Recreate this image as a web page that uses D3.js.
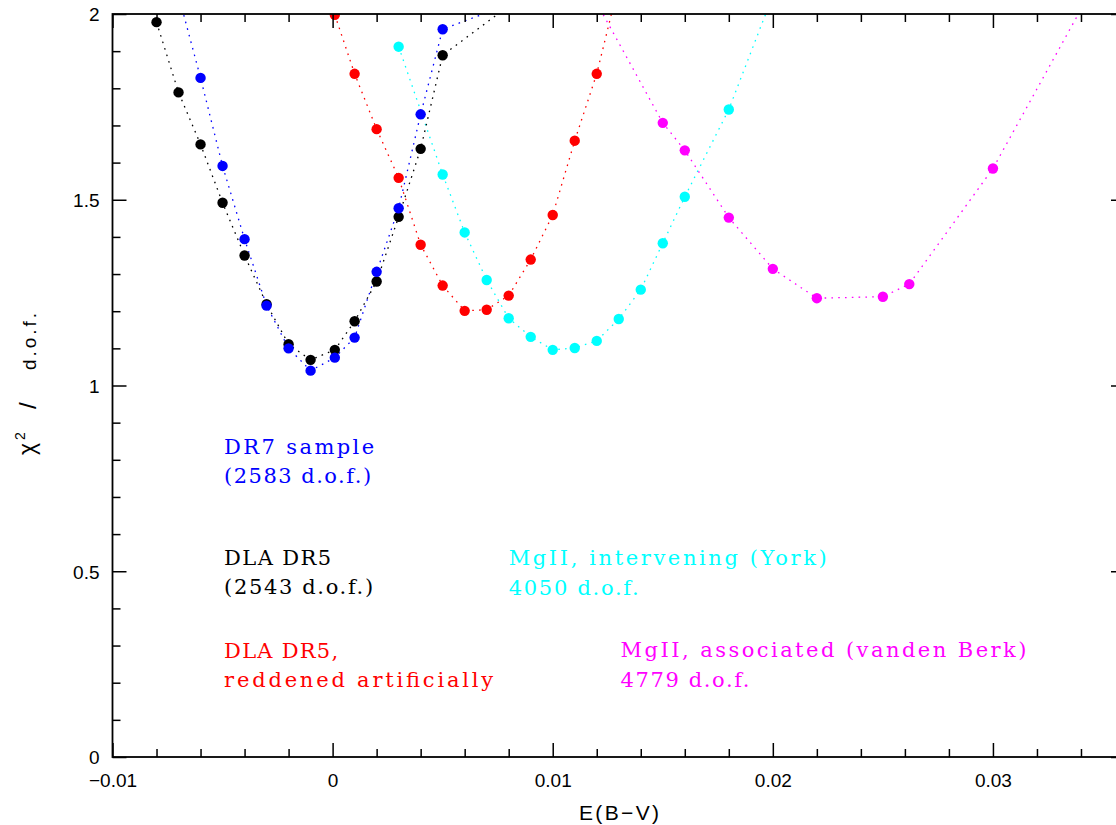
<!DOCTYPE html>
<html>
<head>
<meta charset="utf-8">
<script src="https://cdn.jsdelivr.net/npm/d3@7"></script>
<style>
  body { margin: 0; background: #fff; }
  svg { display: block; }
</style>
</head>
<body>
<svg id="chart" width="1116" height="825"></svg>
<script>
// E(B-V) grid and reduced chi^2 for each sample
const dr7X   = [-0.007, -0.006, -0.005, -0.004, -0.003, -0.002, -0.001, 0.0001, 0.001, 0.002, 0.003, 0.004, 0.005, 0.010];
const dr7Chi = [2.05, 1.828, 1.591, 1.394, 1.215, 1.100, 1.040, 1.075, 1.129, 1.306, 1.477, 1.730, 1.959, 2.07];

const dlaX   = [-0.008, -0.007, -0.006, -0.005, -0.004, -0.003, -0.002, -0.001, 0.0001, 0.001, 0.002, 0.003, 0.004, 0.005, 0.010];
const dlaChi = [1.978, 1.789, 1.649, 1.492, 1.350, 1.219, 1.111, 1.069, 1.096, 1.173, 1.280, 1.454, 1.637, 1.889, 2.11];

const redX   = [0.0001, 0.001, 0.002, 0.003, 0.004, 0.005, 0.006, 0.007, 0.008, 0.009, 0.010, 0.011, 0.012, 0.013];
const redChi = [1.998, 1.839, 1.690, 1.559, 1.379, 1.269, 1.201, 1.204, 1.242, 1.339, 1.459, 1.659, 1.839, 2.08];

const yorkX   = [0.003, 0.005, 0.006, 0.007, 0.008, 0.009, 0.010, 0.011, 0.012, 0.013, 0.014, 0.015, 0.016, 0.018, 0.020];
const yorkChi = [1.912, 1.568, 1.412, 1.284, 1.181, 1.131, 1.096, 1.101, 1.120, 1.179, 1.258, 1.383, 1.508, 1.743, 2.05];

const vdbX   = [0.012, 0.015, 0.016, 0.018, 0.020, 0.022, 0.025, 0.0262, 0.030, 0.035];
const vdbChi = [2.03, 1.707, 1.633, 1.452, 1.314, 1.235, 1.239, 1.273, 1.584, 2.12];

const seriesColors = ["#0000ff", "#000000", "#ff0000", "#00ffff", "#ff00ff"];

// axis ticks
const xMajor = [-0.01, 0, 0.01, 0.02, 0.03];
const xTickLabels = ["\u22120.01", "0", "0.01", "0.02", "0.03"];
const yMajor = [0, 0.5, 1, 1.5, 2];
const yTickLabels = ["0", "0.5", "1", "1.5", "2"];

// annotation lines: text, E(B-V) anchor, chi^2 baseline, colour index, drawn width
const noteText  = ["DR7 sample", "(2583 d.o.f.)", "DLA DR5", "(2543 d.o.f.)", "DLA DR5,", "reddened artificially",
                   "MgII, intervening (York)", "4050 d.o.f.", "MgII, associated (vanden Berk)", "4779 d.o.f."];
const noteX     = [-0.00493, -0.00493, -0.00493, -0.00493, -0.00493, -0.00493, 0.00800, 0.00800, 0.01308, 0.01308];
const noteY     = [0.816, 0.737, 0.517, 0.439, 0.266, 0.188, 0.517, 0.436, 0.268, 0.188];
const noteColor = [0, 0, 1, 1, 2, 2, 3, 3, 4, 4];
const noteWidth = [150, 147, 107, 149, 114, 269, 318, 130, 406, 129];

const svg = d3.select("#chart");
const padL = 112.5, padR = 1125, padT = 14, padB = 757;

const x = d3.scaleLinear().domain([-0.01, 0.036]).range([padL, padR]);
const y = d3.scaleLinear().domain([0, 2]).range([padB, padT]);

svg.append("defs").append("clipPath").attr("id", "plotClip")
  .append("rect").attr("x", padL).attr("y", padT)
  .attr("width", padR - padL).attr("height", padB - padT);

const plot = svg.append("g").attr("clip-path", "url(#plotClip)");

const series = [
  [dr7X, dr7Chi], [dlaX, dlaChi], [redX, redChi], [yorkX, yorkChi], [vdbX, vdbChi]
];

const line = d3.line().x(d => x(d[0])).y(d => y(d[1]));

// draw order: cyan, magenta, red, black, blue on top
const order = [3, 4, 2, 1, 0];
order.forEach(i => {
  const [xs, ys] = series[i];
  const pts = xs.map((v, k) => [v, ys[k]]);
  plot.append("path")
    .datum(pts)
    .attr("d", line)
    .attr("fill", "none")
    .attr("stroke", seriesColors[i])
    .attr("stroke-width", 1.3)
    .attr("stroke-dasharray", "1.6 5.2");
});
order.forEach(i => {
  const [xs, ys] = series[i];
  const pts = xs.map((v, k) => [v, ys[k]]);
  plot.selectAll(null)
    .data(pts)
    .enter().append("circle")
    .attr("cx", d => x(d[0]))
    .attr("cy", d => y(d[1]))
    .attr("r", 5.2)
    .attr("fill", seriesColors[i]);
});

// axes with inward ticks on all four sides
const xMinor = d3.range(-0.01, 0.0361, 0.002).filter(v => !xMajor.some(m => Math.abs(m - v) < 1e-9));
const yMinor = d3.range(0, 2.001, 0.1).filter(v => !yMajor.some(m => Math.abs(m - v) < 1e-9));

function axisGroup(axis, transform) {
  const g = svg.append("g").attr("transform", transform).call(axis);
  g.select(".domain").remove();
  g.selectAll("line").attr("stroke", "#000").attr("stroke-width", 1.5);
  return g;
}

axisGroup(d3.axisBottom(x).tickValues(xMinor).tickSize(-8).tickFormat(""), `translate(0,${padB})`);
axisGroup(d3.axisTop(x).tickValues(xMinor).tickSize(-8).tickFormat(""), `translate(0,${padT})`);
axisGroup(d3.axisLeft(y).tickValues(yMinor).tickSize(-8).tickFormat(""), `translate(${padL},0)`);
axisGroup(d3.axisRight(y).tickValues(yMinor).tickSize(-8).tickFormat(""), `translate(${padR},0)`);

const xb = axisGroup(d3.axisBottom(x).tickValues(xMajor).tickSize(-14)
  .tickFormat((d, i) => xTickLabels[i]), `translate(0,${padB})`);
xb.selectAll("text")
  .attr("y", 30).attr("dy", null)
  .attr("font-family", "'Liberation Sans', Arial, sans-serif")
  .attr("font-size", 19).attr("fill", "#000");
axisGroup(d3.axisTop(x).tickValues(xMajor).tickSize(-14).tickFormat(""), `translate(0,${padT})`);

const yl = axisGroup(d3.axisLeft(y).tickValues(yMajor).tickSize(-14)
  .tickFormat((d, i) => yTickLabels[i]), `translate(${padL},0)`);
yl.selectAll("text")
  .attr("x", -13).attr("dy", "0.36em")
  .attr("font-family", "'Liberation Sans', Arial, sans-serif")
  .attr("font-size", 19).attr("fill", "#000");
axisGroup(d3.axisRight(y).tickValues(yMajor).tickSize(-14).tickFormat(""), `translate(${padR},0)`);

// frame
svg.append("rect")
  .attr("x", padL).attr("y", padT)
  .attr("width", padR - padL).attr("height", padB - padT)
  .attr("fill", "none").attr("stroke", "#000").attr("stroke-width", 1.8);

// axis titles
svg.append("text")
  .attr("x", 619).attr("y", 820)
  .attr("text-anchor", "middle")
  .attr("font-family", "'Liberation Sans', Arial, sans-serif")
  .attr("font-size", 21)
  .attr("textLength", 80).attr("lengthAdjust", "spacing")
  .text("E(B\u2212V)");

const yt = svg.append("g").attr("transform", "translate(36,0) rotate(-90)")
  .attr("font-family", "'Liberation Sans', Arial, sans-serif")
  .attr("font-size", 19).attr("fill", "#000");
yt.append("text").attr("x", -455).attr("y", -1).attr("font-size", 23).text("\u03c7");
yt.append("text").attr("x", -440).attr("y", -11).attr("font-size", 14).text("2");
yt.append("text").attr("x", -409).attr("y", 0).attr("font-size", 24).text("/");
yt.append("text").attr("x", -370).attr("y", 0).attr("textLength", 57).attr("lengthAdjust", "spacing").text("d.o.f.");

// in-plot annotations
noteText.forEach((t, i) => {
  svg.append("text")
    .attr("x", x(noteX[i]))
    .attr("y", y(noteY[i]))
    .attr("font-family", "'DejaVu Serif', 'Liberation Serif', serif")
    .attr("font-size", 21)
    .attr("fill", seriesColors[noteColor[i]])
    .attr("textLength", noteWidth[i])
    .attr("lengthAdjust", "spacing")
    .text(t);
});
</script>
</body>
</html>
